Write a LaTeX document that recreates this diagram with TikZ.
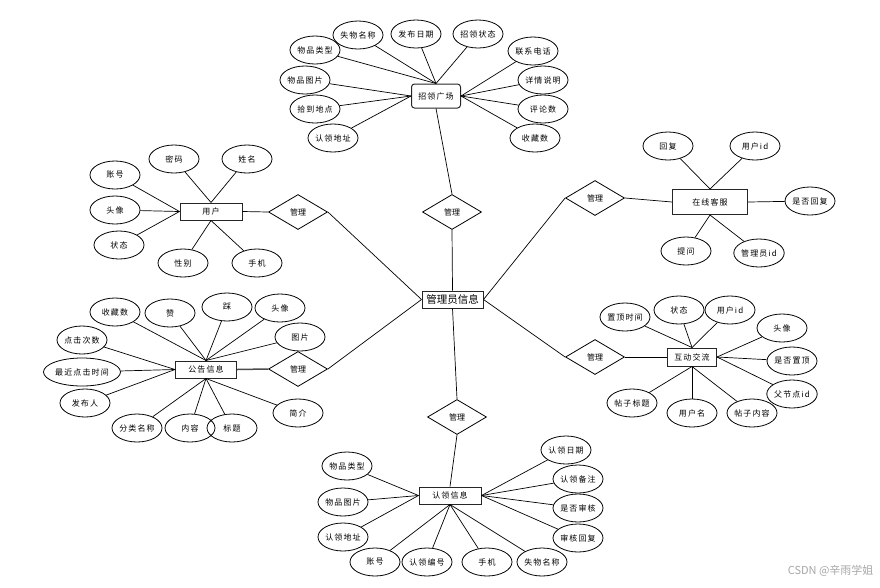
\documentclass[tikz,border=0pt]{standalone}
\usepackage{fontspec}
\setmainfont{Noto Sans CJK SC}
\newfontfamily\spaced[LetterSpace=14]{Noto Sans CJK SC}
\usetikzlibrary{shapes.geometric}
\tikzset{
  attr/.style={ellipse, draw, line width=0.8pt, minimum width=50pt, minimum height=28pt, inner sep=0pt, font=\spaced\fontsize{8}{10}\selectfont},
  ent/.style={rectangle, draw=black!85, line width=1pt, minimum width=62pt, minimum height=17pt, inner sep=0pt, font=\spaced\fontsize{8}{10}\selectfont},
  rel/.style={diamond, draw, line width=0.8pt, minimum width=59pt, minimum height=35pt, inner sep=0pt, font=\fontsize{8}{10}\selectfont},
  lnk/.style={line width=0.7pt},
}
\begin{document}
\begin{tikzpicture}[x=1pt,y=-1pt]
\useasboundingbox (0,0) rectangle (880,587);
% center
\node[ent, minimum width=61pt, minimum height=17pt, font=\fontsize{10.5}{12}\selectfont] (admin) at (452.5,299.5) {管理员信息};

% top cluster
\node[ent, rounded corners=3pt, minimum width=49pt, minimum height=24pt] (zl) at (436,96) {招领广场};
\node[attr] (t1) at (358,35) {失物名称};
\node[attr] (t2) at (416,34) {发布日期};
\node[attr] (t3) at (478,34) {招领状态};
\node[attr] (t4) at (315,50) {物品类型};
\node[attr] (t5) at (305,80) {物品图片};
\node[attr] (t6) at (315,109) {拾到地点};
\node[attr] (t7) at (333,138) {认领地址};
\node[attr] (t8) at (533,51) {联系电话};
\node[attr] (t9) at (543,80) {详情说明};
\node[attr] (t10) at (543,109) {评论数};
\node[attr] (t11) at (535,138) {收藏数};
\foreach \n in {t1,t2,t3,t4} \draw[lnk] (\n) -- (zl.north);
\foreach \n in {t5,t6,t7} \draw[lnk] (\n) -- (zl.west);
\foreach \n in {t8,t9,t10,t11} \draw[lnk] (\n) -- (zl.east);
\node[rel] (r1) at (452,212) {管理};
\draw[lnk] (zl.south) -- (r1.north);
\draw[lnk] (r1.south) -- (admin.north);

% right top cluster
\node[ent, minimum width=75pt, minimum height=25pt] (kf) at (710,202) {在线客服};
\node[attr] (k1) at (668,146) {回复};
\node[attr] (k2) at (755,146) {用户id};
\node[attr] (k3) at (810,201) {是否回复};
\node[attr] (k4) at (686,251) {提问};
\node[attr] (k5) at (759,253) {管理员id};
\draw[lnk] (k1) -- (kf.north);
\draw[lnk] (k2) -- (kf.north);
\draw[lnk] (k3) -- (kf.east);
\draw[lnk] (k4) -- (kf.south);
\draw[lnk] (k5) -- (kf.south);
\node[rel] (r2) at (595,198) {管理};
\draw[lnk] (r2.east) -- (kf.west);
\draw[lnk] (r2.west) -- (admin.east);

% user cluster
\node[ent] (yh) at (211,211.5) {用户};
\node[attr] (u1) at (115,175) {账号};
\node[attr] (u2) at (174,159) {密码};
\node[attr] (u3) at (247,159) {姓名};
\node[attr] (u4) at (115,210) {头像};
\node[attr] (u5) at (119,245) {状态};
\node[attr] (u6) at (183,263) {性别};
\node[attr] (u7) at (257,263) {手机};
\foreach \n in {u1,u4,u5} \draw[lnk] (\n) -- (yh.west);
\foreach \n in {u2,u3} \draw[lnk] (\n) -- (yh.north);
\foreach \n in {u6,u7} \draw[lnk] (\n) -- (yh.south);
\node[rel] (r3) at (298,212) {管理};
\draw[lnk] (yh.east) -- (r3.west);
\draw[lnk] (r3.east) -- (admin.west);

% notice cluster
\node[ent, minimum width=61pt] (gg) at (206,369.5) {公告信息};
\node[attr] (g1) at (115,312) {收藏数};
\node[attr] (g2) at (170,313) {赞};
\node[attr] (g3) at (227,307) {踩};
\node[attr] (g4) at (280,308) {头像};
\node[attr] (g5) at (300,337) {图片};
\node[attr] (g6) at (82,340) {点击次数};
\node[attr, minimum width=77pt] (g7) at (82,372) {最近点击时间};
\node[attr] (g8) at (85,403) {发布人};
\node[attr] (g9) at (137,428) {分类名称};
\node[attr] (g10) at (190,428) {内容};
\node[attr] (g11) at (232,428) {标题};
\node[attr] (g12) at (298,413) {简介};
\foreach \n in {g1,g2,g3,g4,g5} \draw[lnk] (\n) -- (gg.north);
\foreach \n in {g6,g7,g8} \draw[lnk] (\n) -- (gg.west);
\foreach \n in {g9,g10,g11,g12} \draw[lnk] (\n) -- (gg.south);
\node[rel] (r4) at (298,369) {管理};
\draw[line width=1.5pt, black!70] (gg.east) -- (r4.west);
\draw[lnk] (r4.east) -- (admin.west);

% interaction cluster
\node[ent, minimum width=49pt, minimum height=18pt] (hd) at (692,357) {互动交流};
\node[attr] (h1) at (625,317) {置顶时间};
\node[attr] (h2) at (679,310) {状态};
\node[attr] (h3) at (730,310) {用户id};
\node[attr] (h4) at (782,328) {头像};
\node[attr] (h5) at (792,361) {是否置顶};
\node[attr] (h6) at (792,394) {父节点id};
\node[attr] (h7) at (632,403) {帖子标题};
\node[attr] (h8) at (692,413) {用户名};
\node[attr] (h9) at (752,413) {帖子内容};
\foreach \n in {h1,h2,h3} \draw[lnk] (\n) -- (hd.north);
\foreach \n in {h4,h5,h6} \draw[lnk] (\n) -- (hd.east);
\foreach \n in {h7,h8,h9} \draw[lnk] (\n) -- (hd.south);
\node[rel] (r5) at (595,357) {管理};
\draw[lnk] (r5.east) -- (hd.west);
\draw[lnk] (r5.west) -- (admin.east);

% claim cluster
\node[ent] (rl) at (450,495.5) {认领信息};
\node[attr] (c1) at (347,466) {物品类型};
\node[attr] (c2) at (343,502) {物品图片};
\node[attr] (c3) at (343,537) {认领地址};
\node[attr] (c4) at (375,562) {账号};
\node[attr] (c5) at (427,562) {认领编号};
\node[attr] (c6) at (487,562) {手机};
\node[attr] (c7) at (542,562) {失物名称};
\node[attr] (c8) at (566,450) {认领日期};
\node[attr] (c9) at (578,479) {认领备注};
\node[attr] (c10) at (578,508) {是否审核};
\node[attr] (c11) at (578,538) {审核回复};
\foreach \n in {c1,c2,c3} \draw[lnk] (\n) -- (rl.west);
\foreach \n in {c4,c5,c6,c7} \draw[lnk] (\n) -- (rl.south);
\foreach \n in {c8,c9,c10,c11} \draw[lnk] (\n) -- (rl.east);
\node[rel] (r6) at (457,417) {管理};
\draw[lnk] (admin.south) -- (r6.north);
\draw[lnk] (r6.south) -- (rl.north);

% watermark
\node[text=black!35, font=\fontsize{11}{13}\selectfont, anchor=east] (wm) at (877,571) {CSDN @辛雨学姐};
\end{tikzpicture}
\end{document}
